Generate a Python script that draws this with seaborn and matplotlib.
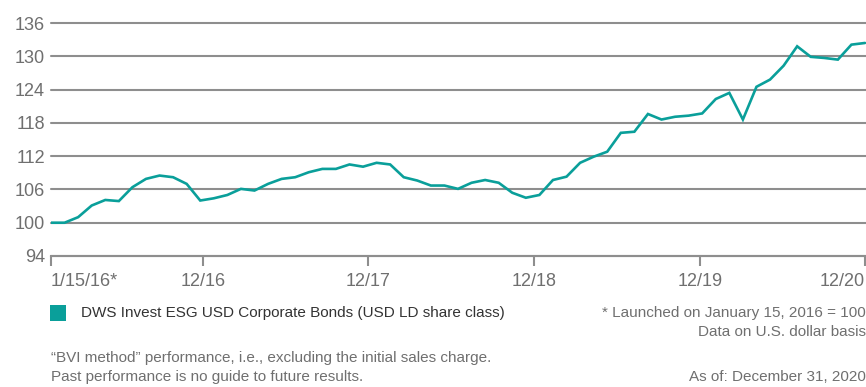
import matplotlib
matplotlib.use("Agg")
import matplotlib.pyplot as plt
from matplotlib.patches import Rectangle
import numpy as np
import pandas as pd
import seaborn as sns

# Indexed fund value (launch on January 15, 2016 = 100), month-end observations
fund_values = [
    100.0, 100.0, 101.0, 103.1, 104.1, 103.9, 106.4, 107.9, 108.5, 108.2, 107.0, 104.0,
    104.4, 105.0, 106.1, 105.8, 107.0, 107.9, 108.2, 109.1, 109.7, 109.7, 110.5, 110.1,
    110.8, 110.5, 108.2, 107.6, 106.7, 106.7, 106.1, 107.2, 107.7, 107.2, 105.4, 104.5,
    105.0, 107.7, 108.3, 110.8, 111.9, 112.8, 116.2, 116.4, 119.6, 118.6, 119.1, 119.3,
    119.7, 122.3, 123.4, 118.6, 124.5, 125.8, 128.3, 131.8, 129.9, 129.7, 129.4, 132.1,
    132.4,
]
x_tick_labels = ["1/15/16*", "12/16", "12/17", "12/18", "12/19", "12/20"]
y_ticks = [94, 100, 106, 112, 118, 124, 130, 136]
series_name = "DWS Invest ESG USD Corporate Bonds (USD LD share class)"

TEAL = "#0a9f9a"
GRID = "#8e8e8e"
LABEL = "#6f6f6f"

sns.set_style("white")
plt.rcParams["font.family"] = ["Liberation Sans", "DejaVu Sans"]

df = pd.DataFrame({"step": np.arange(len(fund_values)), "value": fund_values})

W, H = 866, 387
fig = plt.figure(figsize=(W / 100, H / 100), dpi=100)
ax = fig.add_axes([51 / W, 131 / H, 815 / W, 233 / H])

sns.lineplot(data=df, x="step", y="value", ax=ax, color=TEAL, linewidth=1.9,
             solid_joinstyle="miter")

n = len(fund_values) - 1
ax.set_xlim(0, n * 815 / 814)
ax.set_ylim(94, 136)

# year-end ticks along the time axis
tick_pos = [0, 11.2, 23.37, 35.6, 47.85, n]
ax.set_xticks(tick_pos)
ax.set_xticklabels(x_tick_labels)
ax.set_yticks(y_ticks)
ax.set_yticklabels([str(v) for v in y_ticks])

ax.set_xlabel("")
ax.set_ylabel("")
ax.yaxis.grid(True, color=GRID, linewidth=1.5)
ax.xaxis.grid(False)
for gl in ax.yaxis.get_gridlines():
    gl.set_clip_on(False)
ax.set_axisbelow(True)
for side in ["top", "right", "left"]:
    ax.spines[side].set_visible(False)
ax.spines["bottom"].set_color(GRID)
ax.spines["bottom"].set_linewidth(1.5)

ax.tick_params(axis="y", left=False, length=0, pad=4.5, labelsize=13, labelcolor=LABEL)
ax.tick_params(axis="x", bottom=True, direction="out", length=7.5, width=1.5, color=GRID,
               pad=4.5, labelsize=13, labelcolor=LABEL)
labels = ax.get_xticklabels()
labels[0].set_ha("left")
labels[-1].set_ha("right")
for t in ax.xaxis.get_major_ticks():
    t.tick1line.set_clip_on(False)


def fx(px):
    return px / W


def fy(py):
    return 1 - py / H


FS = 11
# legend entry
fig.patches.append(Rectangle((fx(50), fy(321)), 16 / W, 16 / H, transform=fig.transFigure,
                             facecolor=TEAL, edgecolor="none"))
fig.text(fx(81), fy(313), series_name, fontsize=FS, color="#333333", va="center", ha="left")

# notes
fig.text(fx(866), fy(313), "* Launched on January 15, 2016 = 100", fontsize=FS,
         color=LABEL, va="center", ha="right")
fig.text(fx(866), fy(332), "Data on U.S. dollar basis", fontsize=FS,
         color=LABEL, va="center", ha="right")
fig.text(fx(51), fy(358), "\u201cBVI method\u201d performance, i.e., excluding the initial sales charge.",
         fontsize=FS, color=LABEL, va="center", ha="left")
fig.text(fx(51), fy(377), "Past performance is no guide to future results.",
         fontsize=FS, color=LABEL, va="center", ha="left")
fig.text(fx(866), fy(377), "As of: December 31, 2020", fontsize=FS,
         color=LABEL, va="center", ha="right")

fig.savefig("out.png", dpi=100)
